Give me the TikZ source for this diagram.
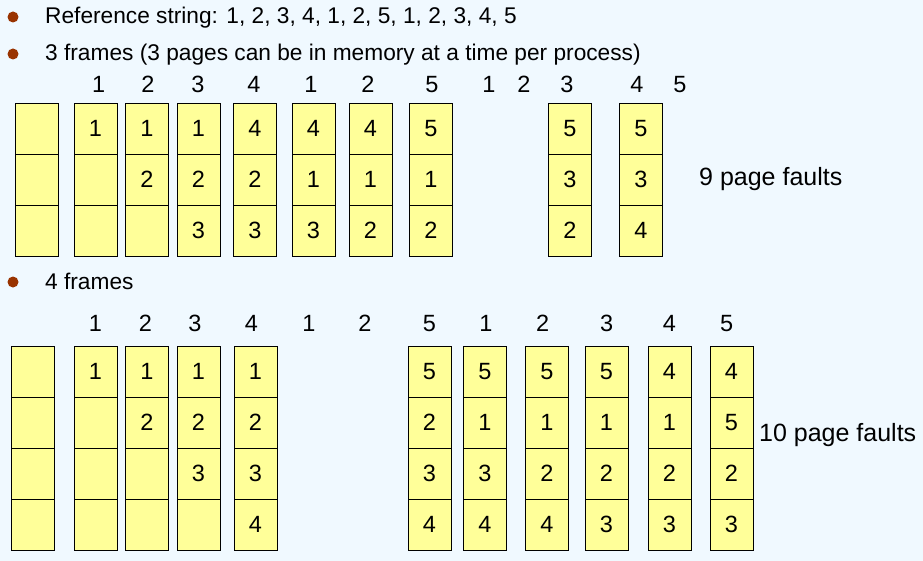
\documentclass[tikz,border=0pt]{standalone}
\usepackage{fontspec}
\setmainfont{Liberation Sans}
\usetikzlibrary{positioning}
\definecolor{bgblue}{HTML}{F0F9FF}
\definecolor{cellyellow}{HTML}{FFFF99}
\definecolor{bulletbrown}{HTML}{993300}
\tikzset{
  cell/.style={draw, fill=cellyellow, minimum width=43pt, minimum height=51pt,
    inner sep=0pt, outer sep=0pt, line width=.8pt, font=\fontsize{23.5}{28}\selectfont},
  refnum/.style={anchor=base, inner sep=0pt, font=\fontsize{23.5}{28}\selectfont},
  bullettext/.style={anchor=base west, inner sep=0pt, font=\fontsize{22.7}{27}\selectfont},
  faults/.style={anchor=base west, inner sep=0pt, font=\fontsize{25}{30}\selectfont},
  bulletdot/.style={circle, fill=bulletbrown, minimum size=11pt, inner sep=0pt}
}
\begin{document}
\begin{tikzpicture}[x=1pt,y=-1pt]
\fill[bgblue] (0,0) rectangle (923,561);
\useasboundingbox (0,0) rectangle (923,561);
% bullets
\node[bulletdot] (b1) at (13,17) {};
\node[bullettext] (l1) at (45,24) {Reference string: 1, 2, 3, 4, 1, 2, 5, 1, 2, 3, 4, 5};
\node[bulletdot] (b2) at (13,54) {};
\node[bullettext] (l2) at (45,61) {3 frames (3 pages can be in memory at a time per process)};
\node[bulletdot] (b3) at (13,282) {};
\node[bullettext] (l3) at (45,289) {4 frames};
% 3 frames
\foreach \x/\p [count=\i] in {98.7/1,148/2,198/3,254/4,311/1,368/2,432/5,489/1,524/2,567/3,637/4,680/5}
\node[refnum] (ra\i) at (\x,93) {\p};
\foreach \i/\x/\a/\b/\c in {0/37/{}/{}/{}, 1/95.5/1/{}/{}, 2/147/1/2/{}, 3/198.5/1/2/3,
  4/255/4/2/3, 5/313.5/4/1/3, 6/370.5/4/1/2, 7/431/5/1/2, 8/570/5/3/2, 9/641/5/3/4}
{
\node[cell] (t\i-1) at (\x,128.5) {\a};
\node[cell, below=0pt of t\i-1] (t\i-2) {\b};
\node[cell, below=0pt of t\i-2] (t\i-3) {\c};
}
\node[faults] (pf3) at (699,185.7) {9 page faults};
% 4 frames
\foreach \x/\p [count=\i] in {95.3/1,145.3/2,195/3,251.3/4,309/1,365/2,429.3/5,486/1,542.7/2,606.7/3,669.3/4,726.7/5}
\node[refnum] (rb\i) at (\x,331) {\p};
\foreach \i/\x/\a/\b/\c/\d in {0/32.5/{}/{}/{}/{}, 1/95.5/1/{}/{}/{}, 2/147/1/2/{}/{},
  3/198.5/1/2/3/{}, 4/255.5/1/2/3/4, 5/429.5/5/2/3/4, 6/485/5/1/3/4, 7/547/5/1/2/4,
  8/606.5/5/1/2/3, 9/669.5/4/1/2/3, 10/731.5/4/5/2/3}
{
\node[cell] (f\i-1) at (\x,371.5) {\a};
\node[cell, below=0pt of f\i-1] (f\i-2) {\b};
\node[cell, below=0pt of f\i-2] (f\i-3) {\c};
\node[cell, below=0pt of f\i-3] (f\i-4) {\d};
}
\node[faults] (pf4) at (759,441.7) {10 page faults};
\end{tikzpicture}
\end{document}
